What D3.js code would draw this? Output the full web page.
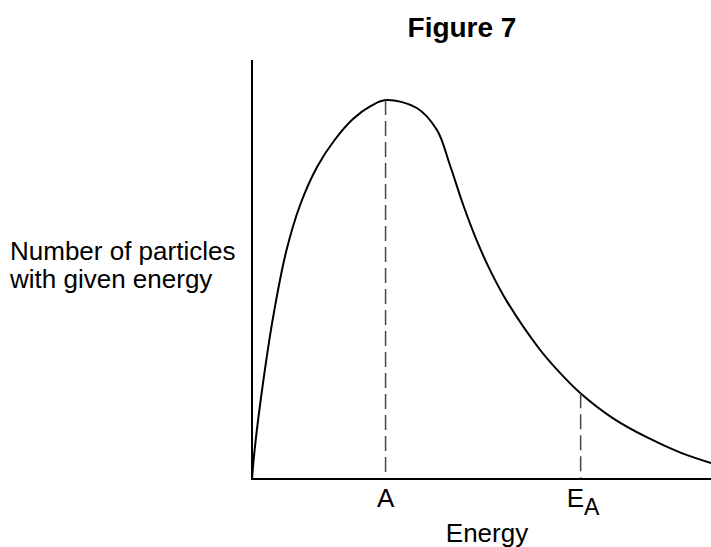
<!DOCTYPE html>
<html>
<head>
<meta charset="utf-8">
<script src="https://cdn.jsdelivr.net/npm/d3@7"></script>
<style>
  body { margin: 0; background: #fff; }
  text { font-family: "Liberation Sans", Arial, sans-serif; fill: #000; }
</style>
</head>
<body>
<div id="chart-area"></div>
<script>
// distribution curve (energy in arbitrary units, count in % of axis)
const energy = [0, 0.06, 0.24, 0.46, 0.74, 1.05, 1.42, 1.8, 2.2, 2.6, 2.92, 3.59, 4.03, 4.31, 4.6, 4.9, 5.2, 5.56, 6.27, 6.7, 7.15, 7.86, 8.61, 9.32, 10];
const particles = [0, 8, 25.2, 42.5, 59.5, 72, 82, 89, 94.5, 98, 99.5, 97.4, 91.6, 82.5, 72, 62.5, 54.5, 46.5, 34, 28, 22.6, 16.0, 10.9, 7.0, 4.2];

// marked energies on the x axis
const markerNames = ["A", "E"];
const markerSubs = ["", "A"];
const markerEnergy = [2.91, 7.16];

const width = 711, height = 547;

const svg = d3.select('#chart-area')
    .append('svg')
    .attr('width', width)
    .attr('height', height);

const x = d3.scaleLinear().domain([0, 10]).range([252, 711]);
const y = d3.scaleLinear().domain([0, 110]).range([479, 60]);

const pts = energy.map((e, i) => [e, particles[i]]);

const line = d3.line()
    .x(d => x(d[0]))
    .y(d => y(d[1]))
    .curve(d3.curveCatmullRom.alpha(0.5));

// title
svg.append("text")
    .attr("x", 462)
    .attr("y", 37)
    .attr("text-anchor", "middle")
    .attr("font-size", 28)
    .attr("font-weight", "bold")
    .text("Figure 7");

// the curve
const curve = svg.append("path")
    .datum(pts)
    .attr("d", line)
    .attr("fill", "none")
    .attr("stroke", "#000")
    .attr("stroke-width", 2);

// find where the drawn curve crosses a given x, so the dashes meet it
const pathNode = curve.node();
const totalLen = pathNode.getTotalLength();
function curveY(px) {
    let lo = 0, hi = totalLen;
    for (let k = 0; k < 40; k++) {
        const mid = (lo + hi) / 2;
        if (pathNode.getPointAtLength(mid).x < px) lo = mid; else hi = mid;
    }
    return pathNode.getPointAtLength(lo).y;
}

// dashed drop lines
svg.selectAll("line.drop")
    .data(markerEnergy)
    .join("line")
    .attr("class", "drop")
    .attr("x1", d => x(d))
    .attr("x2", d => x(d))
    .attr("y1", d => curveY(x(d)))
    .attr("y2", y(0))
    .attr("stroke", "#444")
    .attr("stroke-width", 1.5)
    .attr("stroke-dasharray", "15 6");

// axes (plain lines, no ticks)
svg.append("line")
    .attr("x1", x(0)).attr("x2", x(0))
    .attr("y1", y(0) + 1).attr("y2", y(110))
    .attr("stroke", "#000").attr("stroke-width", 2);
svg.append("line")
    .attr("x1", x(0) - 1).attr("x2", x(10))
    .attr("y1", y(0)).attr("y2", y(0))
    .attr("stroke", "#000").attr("stroke-width", 2);

// marker labels
markerEnergy.forEach((d, i) => {
    const t = svg.append("text")
        .attr("class", "mark")
        .attr("y", 507)
        .attr("font-size", 26);
    if (markerSubs[i]) {
        t.attr("x", x(d) - 14).attr("text-anchor", "start").text(markerNames[i]);
        t.append("tspan").attr("dy", 8).attr("font-size", 23).text(markerSubs[i]);
    } else {
        t.attr("x", x(d)).attr("text-anchor", "middle").text(markerNames[i]);
    }
});

// axis titles
svg.append("text")
    .attr("x", 487)
    .attr("y", 542)
    .attr("text-anchor", "middle")
    .attr("font-size", 26)
    .text("Energy");

const yTitle = svg.append("text")
    .attr("x", 10)
    .attr("y", 260)
    .attr("font-size", 26);
yTitle.append("tspan").attr("x", 10).text("Number of particles");
yTitle.append("tspan").attr("x", 10).attr("dy", 28).text("with given energy");
</script>
</body>
</html>
